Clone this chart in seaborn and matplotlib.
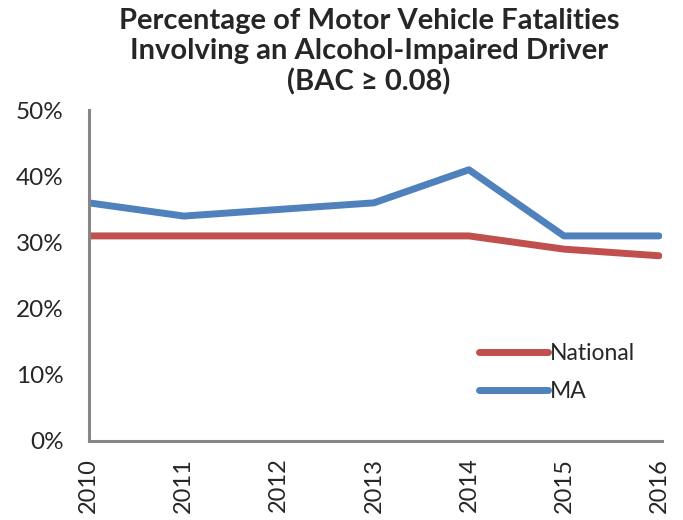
import matplotlib
matplotlib.use("Agg")
import matplotlib.pyplot as plt
import seaborn as sns
import pandas as pd

years = ["2010", "2011", "2012", "2013", "2014", "2015", "2016"]
national = [31, 31, 31, 31, 31, 29, 28]
ma = [36, 34, 35, 36, 41, 31, 31]

sns.set_style("white")
plt.rcParams["font.family"] = ["Lato", "DejaVu Sans"]

df = pd.DataFrame({
    "pos": list(range(len(years))) * 2,
    "value": national + ma,
    "series": ["National"] * len(years) + ["MA"] * len(years),
})

fig = plt.figure(figsize=(6.83, 5.2), dpi=100)
ax = fig.add_axes([0.130, 0.152, 0.839, 0.636])
sns.lineplot(data=df, x="pos", y="value", hue="series", hue_order=["National", "MA"],
             palette={"National": "#C0504D", "MA": "#4F81BD"}, linewidth=5,
             solid_capstyle="round", ax=ax)

ax.set_xlim(0, 6.03)
ax.set_ylim(0, 50)
ax.set_xticks(range(len(years)))
ax.set_xticklabels(years, rotation=90, fontsize=17)
ax.set_yticks(range(0, 51, 10))
ax.set_yticklabels([f"{v}%" for v in range(0, 51, 10)], fontsize=17.5)
ax.tick_params(axis="y", length=0, pad=18)
ax.tick_params(axis="x", length=0, pad=12)
ax.set_xlabel("")
ax.set_ylabel("")
for s in ["top", "right"]:
    ax.spines[s].set_visible(False)
for s in ["left", "bottom"]:
    ax.spines[s].set_color("#868686")
    ax.spines[s].set_linewidth(2.2)

leg = ax.legend(loc="lower right", bbox_to_anchor=(0.99, 0.055), frameon=False,
                fontsize=16.5, handlelength=3.0, handletextpad=0.1, labelspacing=0.75)

fig.suptitle("Percentage of Motor Vehicle Fatalities\nInvolving an Alcohol-Impaired Driver\n(BAC \u2265 0.08)",
             x=0.54, y=0.984, fontsize=21, fontweight="bold", linespacing=1.18)

fig.savefig("out.png", dpi=100)
